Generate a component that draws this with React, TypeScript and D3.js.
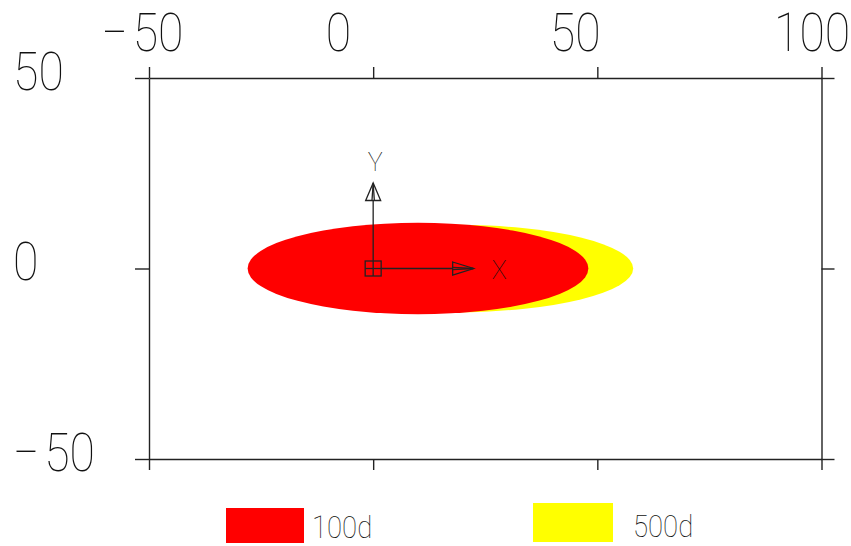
import React, { useEffect, useRef } from "react";
import * as d3 from "d3";

// tick values
const xTicks = [-50, 0, 50, 100];
const yTicks = [-50, 0, 50];

// series (ellipses): drawn back to front
const seriesNames = ["500d", "100d"];
const seriesColors = ["#ffff00", "#ff0000"];
const centerX = [18, 10];
const centerY = [0, 0];
const halfWidth = [40, 38];
const halfHeight = [11.5, 12];

// legend order as it appears under the plot
const legendNames = ["100d", "500d"];
const legendColors = ["#ff0000", "#ffff00"];

const FONT = "Roboto, 'DejaVu Sans', sans-serif";
const SQX = 0.86; // narrow the glyphs a bit, like the CAD font

// writes a tick label, with a wider gap after the minus sign
const tickLabel = (sel: any) => {
    sel.each(function (this: any, d: any) {
        const t = d3.select(this);
        if (d < 0) {
            t.text("\u2212\u200A" + Math.abs(d));
        } else {
            t.text(String(d));
        }
    });
};

const App = () => {
    const svgRef = useRef<SVGSVGElement>(null);

    useEffect(() => {
        const width = 851;
        const height = 546;
        const margin = { top: 78, right: 29.5, bottom: 87, left: 149 };

        d3.select(svgRef.current).selectAll("*").remove();

        const svg = d3.select(svgRef.current)
            .attr("width", width)
            .attr("height", height);

        const x = d3.scaleLinear().domain([-50, 100]).range([margin.left, width - margin.right]);
        const y = d3.scaleLinear().domain([-50, 50]).range([height - margin.bottom, margin.top]);

        // ellipses
        svg.append("g")
            .selectAll("ellipse")
            .data(seriesNames)
            .enter()
            .append("ellipse")
            .attr("cx", (_, i) => x(centerX[i]))
            .attr("cy", (_, i) => y(centerY[i]))
            .attr("rx", (_, i) => x(halfWidth[i]) - x(0))
            .attr("ry", (_, i) => y(0) - y(halfHeight[i]))
            .attr("fill", (_, i) => seriesColors[i]);

        // frame axes
        const stroke = "#222";
        const styleAxis = (g: any) => {
            g.select(".domain").attr("stroke", stroke).attr("stroke-width", 1.4);
            g.selectAll(".tick line").attr("stroke", stroke).attr("stroke-width", 1.4);
            g.selectAll(".tick text").remove();
        };

        const top = svg.append("g")
            .attr("transform", `translate(0, ${margin.top})`)
            .call(d3.axisTop(x).tickValues(xTicks).tickSize(11).tickSizeOuter(0))
            .call(styleAxis);
        top.selectAll(".tick")
            .append("text")
            .attr("transform", `scale(${SQX},1)`)
            .attr("x", -48 / SQX)
            .attr("y", -27.5)
            .attr("text-anchor", "start")
            .attr("font-family", FONT)
            .attr("font-weight", 100)
            .attr("font-size", 54)
            .attr("fill", "#111")
            .call(tickLabel);

        svg.append("g")
            .attr("transform", `translate(0, ${height - margin.bottom})`)
            .call(d3.axisBottom(x).tickValues(xTicks).tickSize(11).tickSizeOuter(0))
            .call(styleAxis);

        const left = svg.append("g")
            .attr("transform", `translate(${margin.left}, 0)`)
            .call(d3.axisLeft(y).tickValues(yTicks).tickSize(14).tickSizeOuter(0))
            .call(styleAxis);
        left.selectAll(".tick")
            .append("text")
            .attr("transform", `scale(${SQX},1)`)
            .attr("x", (13 - margin.left) / SQX)
            .attr("y", 11)
            .attr("text-anchor", "start")
            .attr("font-family", FONT)
            .attr("font-weight", 100)
            .attr("font-size", 54)
            .attr("fill", "#111")
            .call(tickLabel);

        svg.append("g")
            .attr("transform", `translate(${width - margin.right}, 0)`)
            .call(d3.axisRight(y).tickValues(yTicks).tickSize(13).tickSizeOuter(0))
            .call(styleAxis);

        // coordinate system icon at the origin
        const ox = x(0);
        const oy = y(0);
        const icon = svg.append("g")
            .attr("transform", `translate(${ox}, ${oy})`)
            .attr("fill", "none")
            .attr("stroke", stroke)
            .attr("stroke-width", 1.3);
        icon.append("rect").attr("x", -8).attr("y", -7.5).attr("width", 16).attr("height", 15);
        icon.append("line").attr("x1", 0).attr("y1", -7.5).attr("x2", 0).attr("y2", 7.5);
        icon.append("line").attr("x1", -8).attr("y1", 0).attr("x2", 8).attr("y2", 0);
        // Y axis arrow
        icon.append("line").attr("x1", 0).attr("y1", -7.5).attr("x2", 0).attr("y2", -68);
        icon.append("path").attr("d", "M-7.5,-68L0,-85.5L7.5,-68Z").attr("fill", "#fff");
        icon.append("line").attr("x1", -1.2).attr("y1", -68).attr("x2", 0).attr("y2", -85);
        icon.append("line").attr("x1", 1.2).attr("y1", -68).attr("x2", 0).attr("y2", -85);
        // X axis arrow
        icon.append("line").attr("x1", 8).attr("y1", 0).attr("x2", 79.5).attr("y2", 0);
        icon.append("path").attr("d", "M79.5,-6.5L100.5,0L79.5,6.5Z");
        icon.append("line").attr("x1", 79.5).attr("y1", -1.2).attr("x2", 100).attr("y2", 0);
        icon.append("line").attr("x1", 79.5).attr("y1", 1.2).attr("x2", 100).attr("y2", 0);
        icon.append("text")
            .attr("x", 2).attr("y", -97.5)
            .attr("text-anchor", "middle")
            .attr("font-family", FONT).attr("font-weight", 100).attr("font-size", 25)
            .attr("fill", "#111").attr("stroke", "none")
            .text("Y");
        icon.append("text")
            .attr("x", 126).attr("y", 10.5)
            .attr("text-anchor", "middle")
            .attr("font-family", FONT).attr("font-weight", 100).attr("font-size", 25)
            .attr("fill", "#111").attr("stroke", "none")
            .text("X");

        // legend
        const legendX = [226, 533];
        const legendY = [508, 503];
        const legendH = [35, 39];
        const legendW = [78, 80];
        const legend = svg.append("g")
            .selectAll("g.item")
            .data(legendNames)
            .enter()
            .append("g")
            .attr("class", "item")
            .attr("transform", (_, i) => `translate(${legendX[i]}, ${legendY[i]})`);
        legend.append("rect")
            .attr("width", (_, i) => legendW[i])
            .attr("height", (_, i) => legendH[i])
            .attr("fill", (_, i) => legendColors[i]);
        legend.append("text")
            .attr("transform", `scale(${SQX},1)`)
            .attr("x", (_, i) => (legendW[i] + (i === 0 ? 8 : 20)) / SQX)
            .attr("y", (_, i) => (i === 0 ? 30 : 34))
            .attr("font-family", FONT)
            .attr("font-weight", 100)
            .attr("font-size", 32)
            .attr("fill", "#111")
            .text((d) => d);
    }, []);

    return (
        <svg
            ref={svgRef}
            style={{ position: "absolute", left: 0, top: 0, background: "#fff" }}
        ></svg>
    );
};

export default App;
